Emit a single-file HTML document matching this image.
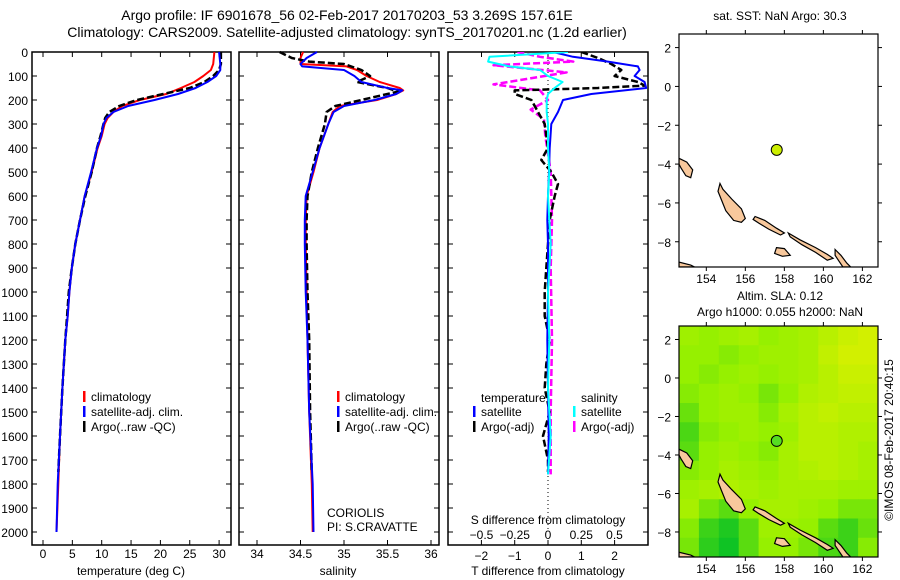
<!DOCTYPE html>
<html><head><meta charset="utf-8"><style>
html,body{margin:0;padding:0;background:#fff}
svg{display:block;font-family:"Liberation Sans",sans-serif}
</style></head><body>
<svg id="c" width="900" height="580" viewBox="0 0 900 580">
<text x="347" y="20" font-size="14" text-anchor="middle">Argo profile: IF 6901678_56 02-Feb-2017 20170203_53 3.269S 157.61E</text>
<text x="347" y="37" font-size="14" text-anchor="middle">Climatology: CARS2009. Satellite-adjusted climatology: synTS_20170201.nc (1.2d earlier)</text>
<text x="780" y="20" font-size="12" text-anchor="middle">sat. SST: NaN Argo: 30.3</text>
<text x="780" y="300" font-size="12" text-anchor="middle">Altim. SLA: 0.12</text>
<text x="780" y="316" font-size="12" text-anchor="middle">Argo h1000: 0.055 h2000: NaN</text>
<text transform="translate(893,440) rotate(-90)" font-size="12" text-anchor="middle">©IMOS 08-Feb-2017 20:40:15</text>
</svg>
<script>
// ---------- data ----------
const tDepth=[0,50,75,100,125,150,175,200,225,250,275,300,350,400,500,600,700,800,900,1000,1100,1200,1400,1600,1800,2000];
const tClim=[29.2,29.0,28.6,27.3,25.8,23.5,21,16.5,13.5,12,11,10.5,10,9.3,8.3,7.1,6.3,5.5,4.9,4.5,4.2,3.8,3.3,2.9,2.6,2.3];
const tSat=[30.0,30.2,30.2,29.5,28,26,23,19,14.5,12,10.8,10.3,9.9,9.2,8.2,7.1,6.3,5.5,4.9,4.5,4.2,3.8,3.3,2.9,2.5,2.3];
const tArgoDepth=[0,50,75,100,125,150,175,200,225,250,275,300,350,400,500,600,700,800,900,1000,1100,1200,1400,1600,1750];
const tArgo=[30.3,30.3,30.0,29,27.5,25,20.5,16,13,11.3,10.6,10.3,9.8,9.2,8.3,7.2,6.3,5.5,4.9,4.4,4.1,3.8,3.3,2.9,2.6];
const sDepth=[0,25,50,60,75,100,125,150,160,175,200,225,250,300,400,500,600,700,800,1000,1200,1500,1800,2000];
const sClim=[34.53,34.5,34.5,35.03,35.15,35.26,35.41,35.64,35.68,35.6,35.38,34.95,34.87,34.82,34.72,34.65,34.57,34.56,34.56,34.57,34.58,34.6,34.63,34.64];
const sSat=[34.69,34.57,34.5,34.52,35.0,35.12,35.2,35.5,35.67,35.6,35.35,35.0,34.88,34.82,34.72,34.64,34.56,34.55,34.55,34.56,34.58,34.6,34.64,34.65];
const sArgoDepth=[0,25,40,50,75,100,125,150,165,200,225,250,300,400,500,600,700,800,1000,1200,1500,1750];
const sArgo=[34.26,34.4,34.6,35.0,35.2,35.3,35.15,35.5,35.62,35.2,34.9,34.8,34.78,34.7,34.63,34.58,34.57,34.57,34.58,34.6,34.61,34.63];
const dDepth=[0,20,40,60,75,100,125,150,175,200,250,300,400,500,600,700,800,1000,1200,1400,1600,1760];
const dTSat=[0.15,0.75,1.8,2.7,2.75,2.6,2.9,2.95,1.3,0.45,0.3,0.1,0.05,0.03,0.0,-0.02,0.0,0.0,-0.02,0.0,0.02,0.0];
const dTArgoDepth=[0,25,50,75,100,125,140,150,160,175,200,250,300,400,450,500,550,600,700,800,900,1000,1100,1200,1300,1400,1500,1600,1700,1750];
const dTArgo=[1.0,1.5,1.9,2.2,2.0,2.7,2.9,1.5,-1.0,-1.0,-0.5,-0.3,-0.1,0,-0.2,0.1,0.3,0.2,0.05,0,-0.05,-0.1,-0.1,0.05,-0.05,-0.1,0.05,-0.15,0,0];
const dSSat=[0.15,-0.44,-0.45,-0.29,-0.06,0,0.11,0.05,0.0,-0.01,-0.01,0.0,0.0,0.01,0.0,0.01,0.02,0.0,0.01,0.0,0.02,0.0];
const dSArgoDepth=[0,20,40,55,85,135,160,200,240,280,350,500,700,900,1200,1500,1760];
const dSArgo=[-0.23,-0.06,0.19,-0.41,0.14,-0.41,-0.06,0.0,-0.13,-0.03,-0.02,0.02,0.03,0.02,0.03,0.02,0.02];
const tTicks=[0,5,10,15,20,25,30];
const sTicks=[34,34.5,35,35.5,36];
const sTickLabels=["34","34.5","35","35.5","36"];
const dtTicks=[-2,-1,0,1,2];
const dsTicks=[-0.5,-0.25,0,0.25,0.5];
const dsTickLabels=["-0.5","-0.25","0","0.25","0.5"];
const depthTicks=[0,100,200,300,400,500,600,700,800,900,1000,1100,1200,1300,1400,1500,1600,1700,1800,1900,2000];
const lonTicks=[154,156,158,160,162];
const latTicks=[2,0,-2,-4,-6,-8];
const argoLon=157.61, argoLat=-3.269;
const slaGrid=[
[.55,.5,.55,.6,.5,.55,.6,.7,.8,.85],
[.5,.5,.45,.5,.55,.55,.6,.75,.85,.85],
[.5,.45,.5,.55,.5,.55,.6,.7,.8,.8],
[.45,.5,.55,.5,.4,.5,.65,.7,.75,.75],
[.35,.5,.55,.55,.45,.6,.7,.75,.7,.7],
[.25,.45,.5,.55,.5,.55,.7,.7,.65,.65],
[.3,.5,.55,.5,.45,.6,.7,.7,.65,.6],
[.45,.5,.6,.55,.5,.6,.65,.7,.65,.6],
[.55,.6,.65,.6,.55,.6,.6,.6,.55,.55],
[.6,.4,.3,.5,.6,.6,.55,.5,.4,.4],
[.45,.2,.1,.3,.55,.55,.5,.3,.2,.35],
[.4,.15,.05,.3,.5,.5,.4,.25,.2,.45]];
const islands=[
[[152.6,-3.7],[153.0,-3.9],[153.3,-4.3],[153.2,-4.7],[152.95,-4.6],[152.7,-4.2],[152.6,-4.0]],
[[154.7,-5.0],[154.85,-5.3],[155.3,-5.8],[155.8,-6.3],[156.0,-6.8],[155.8,-7.0],[155.4,-6.9],[155.0,-6.4],[154.8,-5.9],[154.6,-5.4]],
[[156.5,-6.7],[157.0,-6.9],[157.6,-7.3],[158.0,-7.55],[157.8,-7.65],[157.2,-7.35],[156.7,-7.05],[156.4,-6.85]],
[[158.2,-7.55],[158.8,-7.9],[159.6,-8.3],[160.2,-8.65],[160.5,-8.85],[160.2,-8.95],[159.6,-8.55],[158.9,-8.15],[158.3,-7.75]],
[[160.6,-8.4],[160.9,-8.7],[161.2,-9.1],[161.4,-9.3],[161.0,-9.3],[160.8,-9.0],[160.6,-8.7]],
[[157.6,-8.3],[158.0,-8.35],[158.3,-8.7],[157.9,-8.75],[157.5,-8.6]],
[[152.6,-9.05],[153.2,-9.2],[153.4,-9.3],[152.6,-9.3]]];

// ---------- helpers ----------
const svg=document.getElementById('c');
const NS='http://www.w3.org/2000/svg';
function mk(tag,attrs,parent){const e=document.createElementNS(NS,tag);for(const k in attrs)e.setAttribute(k,attrs[k]);(parent||svg).appendChild(e);return e;}
function txt(x,y,s,anchor,size,parent){const t=mk('text',{x:x,y:y,'font-size':size||12,'text-anchor':anchor||'middle'},parent);t.textContent=s;return t;}
const yD=d=>52+0.24*d;
const P1={l:32,r:231}, P2={l:239,r:439}, P3={l:448,r:648}, TOP=52, BOT=545;
const xT=v=>43+5.87*v;
const xS=v=>257+87*(v-34);
const xDT=v=>548+33.3*v;
const xDS=v=>548+133*v;
function slaColor(v){
  const a=[0,190,40], m=[150,240,0], b=[235,240,0];
  let c;
  if(v<0.5){const t=v/0.5;c=a.map((x,i)=>x+(m[i]-x)*t);}else{const t=(v-0.5)/0.5;c=m.map((x,i)=>x+(b[i]-x)*t);}
  return 'rgb('+c.map(Math.round).join(',')+')';
}

function panelFrame(p,name){
  const g=mk('g',{});
  
  
  mk('rect',{x:p.l,y:TOP,width:p.r-p.l,height:BOT-TOP,fill:'none',stroke:'#000','stroke-width':1.5},g);
  depthTicks.forEach(d=>{
    mk('line',{x1:p.l,x2:p.l+5,y1:yD(d),y2:yD(d),stroke:'#000'},g);
    mk('line',{x1:p.r,x2:p.r-5,y1:yD(d),y2:yD(d),stroke:'#000'},g);
  });
  return g;
}
function line(xs,ds,sc,color,name,dash,w){
  const pts=xs.map((v,i)=>sc(v).toFixed(1)+','+yD(ds[i]).toFixed(1)).join(' ');
  const e=mk('polyline',{points:pts,fill:'none',stroke:color,'stroke-width':w||2,'stroke-linejoin':'round'});
  if(dash)e.setAttribute('stroke-dasharray',dash);
  
  
  return e;
}
function legend(x,y,items,name){
  const g=mk('g',{});
  
  
  items.forEach((it,i)=>{
    mk('rect',{x:x,y:y+i*15-10,width:2.5,height:11,fill:it[1]},g);
    txt(x+8,y+i*15,it[0],'start',12,g);
  });
}

// ---------- panel 1 ----------
const g1=panelFrame(P1,'temperature-panel');
depthTicks.forEach(d=>{txt(28,yD(d)+5,String(d),'end',12,g1);});
tTicks.forEach(v=>{mk('line',{x1:xT(v),x2:xT(v),y1:BOT,y2:BOT-5,stroke:'#000'},g1);mk('line',{x1:xT(v),x2:xT(v),y1:TOP,y2:TOP+5,stroke:'#000'},g1);txt(xT(v),558,String(v),'middle',12,g1);});
txt(131,575,'temperature (deg C)','middle',12,g1);
line(tClim,tDepth,xT,'#f00','temp-climatology-line');
line(tArgo,tArgoDepth,xT,'#000','temp-argo-line','7,3',2.5);
line(tSat,tDepth,xT,'#00f','temp-satellite-line');
legend(83,401,[['climatology','#f00'],['satellite-adj. clim.','#00f'],['Argo(..raw -QC)','#000']],'temp-legend');

// ---------- panel 2 ----------
const g2=panelFrame(P2,'salinity-panel');
sTicks.forEach((v,i)=>{mk('line',{x1:xS(v),x2:xS(v),y1:BOT,y2:BOT-5,stroke:'#000'},g2);mk('line',{x1:xS(v),x2:xS(v),y1:TOP,y2:TOP+5,stroke:'#000'},g2);txt(xS(v),558,sTickLabels[i],'middle',12,g2);});
txt(338,575,'salinity','middle',12,g2);
line(sClim,sDepth,xS,'#f00','sal-climatology-line');
line(sArgo,sArgoDepth,xS,'#000','sal-argo-line','7,3',2.5);
line(sSat,sDepth,xS,'#00f','sal-satellite-line');
legend(337,401,[['climatology','#f00'],['satellite-adj. clim.','#00f'],['Argo(..raw -QC)','#000']],'sal-legend');
txt(327,517,'CORIOLIS','start',12,g2);
txt(327,531,'PI: S.CRAVATTE','start',12,g2);

// ---------- panel 3 ----------
const g3=panelFrame(P3,'difference-panel');
mk('line',{x1:548,x2:548,y1:TOP,y2:yD(2000),stroke:'#000','stroke-dasharray':'1,3'},g3);
dtTicks.forEach(v=>{mk('line',{x1:xDT(v),x2:xDT(v),y1:BOT,y2:BOT-5,stroke:'#000'},g3);txt(xDT(v),560,String(v).replace('-','−'),'middle',12,g3);});
dsTicks.forEach((v,i)=>{mk('line',{x1:xDS(v),x2:xDS(v),y1:TOP,y2:TOP+5,stroke:'#000'},g3);txt(xDS(v),539,dsTickLabels[i].replace('-','−'),'middle',12,g3);});
txt(548,524,'S difference from climatology','middle',12,g3);
txt(548,575,'T difference from climatology','middle',12,g3);
const clip=mk('clipPath',{id:'p3clip'});mk('rect',{x:P3.l,y:TOP,width:P3.r-P3.l,height:BOT-TOP},clip);
const lines3=mk('g',{'clip-path':'url(#p3clip)'});
lines3.appendChild(line(dSArgo,dSArgoDepth,xDS,'#f0f','sdiff-argo-line','7,3',2.5));
lines3.appendChild(line(dTArgo,dTArgoDepth,xDT,'#000','tdiff-argo-line','7,3',2.5));
lines3.appendChild(line(dTSat,dDepth,xDT,'#00f','tdiff-satellite-line'));
lines3.appendChild(line(dSSat,dDepth,xDS,'#0ff','sdiff-satellite-line'));
txt(481,402,'temperature','start',12,g3);
txt(581,402,'salinity','start',12,g3);
legend(473,416,[['satellite','#00f'],['Argo(-adj)','#000']],'tdiff-legend');
legend(573,416,[['satellite','#0ff'],['Argo(-adj)','#f0f']],'sdiff-legend');

// ---------- maps ----------
function makeMap(M,name,withSla){
  const g=mk('g',{});
  
  
  const lon0=152.6,lon1=162.8,lat0=-9.3,lat1=2.7;
  const X=lo=>M.l+(lo-lon0)/(lon1-lon0)*(M.r-M.l);
  const Y=la=>M.t+(lat1-la)/(lat1-lat0)*(M.b-M.t);
  const cid='clip'+name;
  const cp=mk('clipPath',{id:cid},g);mk('rect',{x:M.l,y:M.t,width:M.r-M.l,height:M.b-M.t},cp);
  const inner=mk('g',{'clip-path':'url(#'+cid+')'},g);
  if(withSla){
    const rows=slaGrid.length, cols=slaGrid[0].length;
    const dLo=(lon1-lon0)/cols, dLa=(lat1-lat0)/rows;
    slaGrid.forEach((row,r)=>row.forEach((v,c)=>{
      const cell=mk('rect',{x:X(lon0+c*dLo),y:Y(lat1-r*dLa),width:X(lon0+(c+1)*dLo)-X(lon0+c*dLo)+0.5,height:Y(lat1-(r+1)*dLa)-Y(lat1-r*dLa)+0.5,fill:slaColor(v)},inner);
      
      
    }));
  }
  islands.forEach(poly=>{
    const p=mk('polygon',{points:poly.map(q=>X(q[0]).toFixed(1)+','+Y(q[1]).toFixed(1)).join(' '),fill:'#f8c89c',stroke:'#000','stroke-width':1.2},inner);
    
    
  });
  mk('rect',{x:M.l,y:M.t,width:M.r-M.l,height:M.b-M.t,fill:'none',stroke:'#000','stroke-width':1.2},g);
  lonTicks.forEach(lo=>{mk('line',{x1:X(lo),x2:X(lo),y1:M.b,y2:M.b+4,stroke:'#000'},g);mk('line',{x1:X(lo),x2:X(lo),y1:M.t,y2:M.t-4,stroke:'#000'},g);txt(X(lo),M.b+16,String(lo),'middle',12,g);});
  latTicks.forEach(la=>{mk('line',{x1:M.l,x2:M.l-4,y1:Y(la),y2:Y(la),stroke:'#000'},g);mk('line',{x1:M.r,x2:M.r+4,y1:Y(la),y2:Y(la),stroke:'#000'},g);txt(M.l-8,Y(la)+5,String(la).replace('-','−'),'end',12,g);});
  const dot=mk('circle',{cx:X(argoLon),cy:Y(argoLat),r:5.5,fill:withSla?'#55dd22':'#ccee00',stroke:'#000'},g);
  
  
}
makeMap({l:679,r:878,t:34,b:267},'sst-map',false);
makeMap({l:679,r:878,t:326,b:557},'sla-map',true);
</script>
</body></html>
